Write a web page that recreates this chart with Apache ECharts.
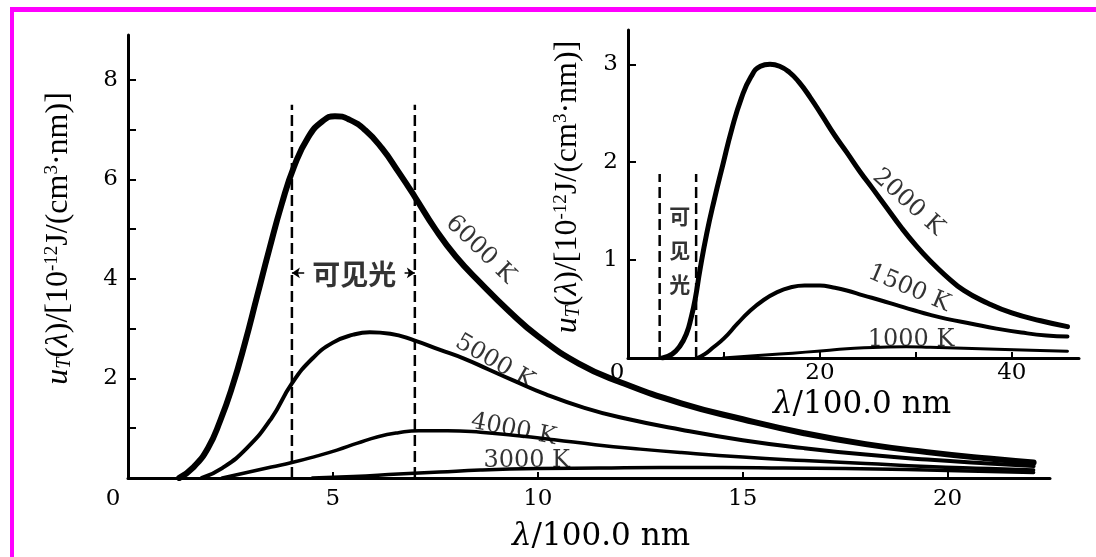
<!DOCTYPE html>
<html><head><meta charset="utf-8">
<script src="https://cdn.jsdelivr.net/npm/echarts@6/dist/echarts.min.js"></script>
<style>html,body{margin:0;padding:0;background:#fff}#c{width:1096px;height:557px}</style>
</head><body><div id="c"></div>
<script>
// ---------- main panel (λ in units of 100 nm, u in 1e-12 J/(cm^3·nm)) ----------
const lam6000 = [1.25, 1.6, 1.95, 2.25, 2.55, 2.85, 3.15, 3.45, 3.75, 4.05, 4.4, 4.75, 5.05, 5.4, 5.8, 6.2, 6.6, 7.0, 7.5, 8.0, 8.6, 9.3, 10.0, 11.0, 12.0, 13.5, 15.0, 16.5, 18.0, 19.5, 21.0, 22.1];
const u6000   = [0, 0.22, 0.6, 1.15, 1.85, 2.7, 3.65, 4.6, 5.5, 6.25, 6.85, 7.17, 7.27, 7.2, 6.98, 6.62, 6.15, 5.65, 5.0, 4.45, 3.92, 3.35, 2.85, 2.3, 1.93, 1.5, 1.18, 0.9, 0.68, 0.52, 0.39, 0.31];
const lam5000 = [1.8, 2.3, 2.9, 3.5, 4.0, 4.5, 5.0, 5.5, 5.9, 6.4, 7.0, 7.6, 8.2, 8.8, 9.4, 10.2, 11.1, 12.0, 13.5, 15.0, 16.5, 18.0, 19.5, 21.0, 22.1];
const u5000   = [0, 0.2, 0.6, 1.2, 1.9, 2.4, 2.72, 2.88, 2.93, 2.9, 2.76, 2.58, 2.4, 2.18, 1.96, 1.68, 1.42, 1.22, 0.97, 0.76, 0.6, 0.47, 0.37, 0.29, 0.24];
const lam4000 = [2.3, 2.9, 3.5, 4.0, 4.6, 5.1, 5.6, 6.1, 6.6, 7.1, 7.8, 8.6, 9.4, 10.4, 11.4, 12.5, 13.5, 15.0, 16.5, 18.0, 19.5, 21.0, 22.1];
const u4000   = [0, 0.11, 0.22, 0.31, 0.44, 0.56, 0.7, 0.83, 0.91, 0.95, 0.95, 0.92, 0.86, 0.77, 0.67, 0.58, 0.51, 0.42, 0.35, 0.29, 0.23, 0.19, 0.16];
const lam3000 = [4.5, 5.5, 6.6, 7.6, 8.6, 10.0, 11.5, 13.0, 14.5, 16.0, 17.5, 19.0, 20.5, 22.1];
const u3000   = [0, 0.03, 0.08, 0.12, 0.16, 0.19, 0.2, 0.21, 0.21, 0.2, 0.19, 0.17, 0.14, 0.11];

// ---------- inset panel ----------
const lam2000 = [3.6, 4.6, 5.4, 6.1, 6.6, 7.0, 7.5, 8.2, 9.0, 9.9, 10.8, 11.8, 12.8, 13.8, 14.8, 15.8, 16.8, 17.8, 19.0, 20.2, 21.5, 22.8, 24.2, 25.5, 27.0, 28.5, 30.0, 31.5, 33.0, 35.0, 37.5, 40.0, 43.0, 45.8];
const u2000   = [0, 0.04, 0.12, 0.25, 0.42, 0.6, 0.9, 1.27, 1.62, 1.98, 2.33, 2.65, 2.87, 2.98, 3.0, 2.98, 2.92, 2.82, 2.66, 2.48, 2.28, 2.1, 1.9, 1.73, 1.53, 1.33, 1.15, 0.99, 0.85, 0.69, 0.56, 0.46, 0.38, 0.32];
const lam1500 = [7.2, 8.0, 8.9, 10.0, 11.4, 12.7, 14.1, 15.5, 16.9, 18.4, 20.0, 21.4, 22.8, 24.5, 26.3, 28.0, 29.7, 31.5, 33.2, 35.8, 38.4, 41.0, 43.6, 45.8];
const u1500   = [0, 0.04, 0.11, 0.2, 0.35, 0.48, 0.59, 0.67, 0.72, 0.74, 0.74, 0.72, 0.69, 0.64, 0.59, 0.54, 0.49, 0.44, 0.4, 0.35, 0.3, 0.26, 0.23, 0.22];
const lam1000 = [9.9, 12.8, 15.8, 18.5, 21.0, 23.6, 26.3, 29.0, 31.5, 35.0, 38.4, 42.0, 45.8];
const u1000   = [0, 0.02, 0.04, 0.06, 0.08, 0.1, 0.11, 0.115, 0.11, 0.1, 0.09, 0.08, 0.07];

// ---------- ticks & labels ----------
const mainXTicks = [0, 5, 10, 15, 20];
const mainYTicks = [1, 2, 3, 4, 5, 6, 7, 8];
const mainYLabels = [2, 4, 6, 8];
const insetXTicks = [10, 20, 30, 40];
const insetXLabels = [0, 20, 40];
const insetYTicks = [1, 2, 3];
const visibleBand = [4, 7];          // visible light, main panel
const visibleTop = 7.5;
const insetVisibleBand = [3.3, 7.1]; // visible light, inset
const insetVisibleTop = 1.88;

const curveNames = ['6000 K', '5000 K', '4000 K', '3000 K', '2000 K', '1500 K', '1000 K'];

// annotation anchors (data coordinates) and rotations
const labelAnchors = [
  {g: 0, x: 8.6, y: 4.59, rot: -44},
  {g: 0, x: 8.95, y: 2.33, rot: -30},
  {g: 0, x: 9.41, y: 0.97, rot: -11},
  {g: 0, x: 9.73, y: 0.34, rot: 0},
  {g: 1, x: 29.2, y: 1.59, rot: -42},
  {g: 1, x: 29.3, y: 0.71, rot: -23},
  {g: 1, x: 29.5, y: 0.19, rot: 0}
];

const pairs = (xs, ys) => xs.map((x, i) => [x, ys[i]]);
const SERIF = 'DejaVu Serif';
const CJK = 'Noto Sans CJK SC';

function curve(name, xs, ys, w, g) {
  return {type: 'line', name, xAxisIndex: g, yAxisIndex: g, data: pairs(xs, ys),
    smooth: 0.5, symbol: 'none', silent: true, z: 3,
    lineStyle: {color: '#000', width: w, cap: 'round', join: 'round'}};
}
function dashed(x, top, g, extra) {
  return Object.assign({type: 'line', xAxisIndex: g, yAxisIndex: g, data: [[x, 0], [x, top]],
    symbol: 'none', silent: true, z: 2,
    lineStyle: {color: '#000', width: 2.5, type: [11, 5]}}, extra || {});
}
function textMark(g, x, y, text, rot, style) {
  return {type: 'scatter', xAxisIndex: g, yAxisIndex: g, symbolSize: 1, silent: true, z: 5,
    itemStyle: {color: 'rgba(0,0,0,0)'}, data: [[x, y]],
    label: Object.assign({show: true, position: 'inside', formatter: text, rotate: rot,
      color: '#000', fontFamily: SERIF, fontSize: 24}, style || {})};
}

const yTitle = '{i|u}{sub|T}({i|λ})/[10{sup|-12}J/(cm{sup|3}·nm)]';
const yTitleStyle = {
  fontFamily: 'Liberation Serif', fontSize: 32, color: '#000',
  rich: {
    i: {fontFamily: 'Liberation Serif', fontStyle: 'italic', fontSize: 32, color: '#000'},
    sub: {fontFamily: 'Liberation Serif', fontStyle: 'italic', fontSize: 20, color: '#000', verticalAlign: 'bottom', lineHeight: 20},
    sup: {fontFamily: 'Liberation Serif', fontSize: 19, color: '#000', verticalAlign: 'top', lineHeight: 20}
  }
};
const xTitle = '{i|λ}/100.0 nm';
const xTitleStyle = {fontFamily: SERIF, fontSize: 31, color: '#000',
  rich: {i: {fontFamily: SERIF, fontStyle: 'italic', fontSize: 31, color: '#000'}}};

const axisLine = {show: true, onZero: false, lineStyle: {color: '#000', width: 3}};
const tickLbl = {color: '#000', fontFamily: SERIF, fontSize: 23};
const originLabel = v => (v === 0 ? '{o|0}' : String(v));

const chart = echarts.init(document.getElementById('c'), null, {renderer: 'canvas'});
chart.setOption({
  backgroundColor: '#fff',
  animation: false,
  grid: [
    {left: 128, right: 46, top: 35, bottom: 68},
    {left: 628, right: 17, top: 30, bottom: 199}
  ],
  xAxis: [
    {type: 'value', gridIndex: 0, min: 0, max: 22.5, interval: 5,
      axisLine, splitLine: {show: false},
      axisTick: {show: true, inside: true, length: 6, customValues: mainXTicks, lineStyle: {color: '#000', width: 2}},
      axisLabel: Object.assign({margin: 10, customValues: mainXTicks, formatter: originLabel,
        rich: {o: {fontFamily: SERIF, fontSize: 23, color: '#000', padding: [0, 30, 0, 0]}}}, tickLbl),
      name: xTitle, nameLocation: 'middle', nameGap: 43,
      nameTextStyle: Object.assign({padding: [0, 0, 0, 24]}, xTitleStyle)},
    {type: 'value', gridIndex: 1, min: 0, max: 47, interval: 10,
      axisLine, splitLine: {show: false},
      axisTick: {show: true, inside: true, length: 6, customValues: insetXTicks, lineStyle: {color: '#000', width: 2}},
      axisLabel: Object.assign({margin: 4, customValues: insetXLabels, formatter: originLabel,
        rich: {o: {fontFamily: SERIF, fontSize: 23, color: '#000', padding: [0, 22, 0, 0]}}}, tickLbl),
      name: xTitle, nameLocation: 'middle', nameGap: 30,
      nameTextStyle: Object.assign({padding: [0, 0, 0, 17]}, xTitleStyle)}
  ],
  yAxis: [
    {type: 'value', gridIndex: 0, min: 0, max: 8.9, interval: 1,
      axisLine, splitLine: {show: false},
      axisTick: {show: true, inside: true, length: 8, customValues: mainYTicks, lineStyle: {color: '#000', width: 2}},
      axisLabel: Object.assign({margin: 10, customValues: mainYLabels}, tickLbl),
      name: yTitle, nameLocation: 'middle', nameRotate: 90, nameGap: 53,
      nameTextStyle: Object.assign({padding: [0, 0, 0, 36]}, yTitleStyle)},
    {type: 'value', gridIndex: 1, min: 0, max: 3.35, interval: 1,
      axisLine, splitLine: {show: false},
      axisTick: {show: true, inside: true, length: 8, customValues: insetYTicks, lineStyle: {color: '#000', width: 2}},
      axisLabel: Object.assign({margin: 10, customValues: insetYTicks}, tickLbl),
      name: yTitle, nameLocation: 'middle', nameRotate: 90, nameGap: 44,
      nameTextStyle: Object.assign({padding: [0, 0, 0, 14]}, yTitleStyle)}
  ],
  series: [
    curve(curveNames[0], lam6000, u6000, 6, 0),
    curve(curveNames[1], lam5000, u5000, 4, 0),
    curve(curveNames[2], lam4000, u4000, 3.5, 0),
    curve(curveNames[3], lam3000, u3000, 3.5, 0),
    curve(curveNames[4], lam2000, u2000, 5, 1),
    curve(curveNames[5], lam1500, u1500, 4, 1),
    curve(curveNames[6], lam1000, u1000, 3, 1),
    dashed(visibleBand[0], visibleTop, 0, {
      markLine: {silent: true, symbol: ['none', 'arrow'], symbolSize: 8, label: {show: false},
        lineStyle: {color: '#000', width: 1.5, type: 'solid'},
        data: [
          [{coord: [4.3, 4.12]}, {coord: [visibleBand[0], 4.12]}],
          [{coord: [6.75, 4.12]}, {coord: [visibleBand[1], 4.12]}]
        ]}
    }),
    dashed(visibleBand[1], visibleTop, 0),
    dashed(insetVisibleBand[0], insetVisibleTop, 1),
    dashed(insetVisibleBand[1], insetVisibleTop, 1),
    textMark(0, 5.52, 4.1, '可见光', 0, {fontFamily: CJK, fontWeight: 'bold', fontSize: 28}),
    textMark(1, 5.4, 1.1, '可\n见\n光', 0, {fontFamily: CJK, fontWeight: 'bold', fontSize: 21, lineHeight: 34}),
    ...labelAnchors.map((a, i) => textMark(a.g, a.x, a.y, curveNames[i], a.rot))
  ],
  graphic: [
    {type: 'rect', shape: {x: 10, y: 7, width: 1086, height: 5}, style: {fill: '#ff00ff'}, silent: true},
    {type: 'rect', shape: {x: 10, y: 7, width: 4, height: 550}, style: {fill: '#ff00ff'}, silent: true}
  ]
});
</script></body></html>
